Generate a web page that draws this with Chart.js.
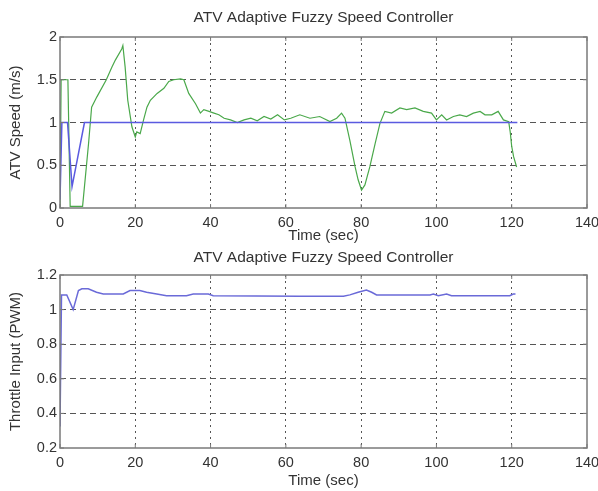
<!DOCTYPE html>
<html>
<head>
<meta charset="utf-8">
<script src="https://cdn.jsdelivr.net/npm/chart.js@4/dist/chart.umd.min.js"></script>
<style>
  body { margin: 0; background: #fff; }
  canvas { position: absolute; left: 0; }
  #speedChart { top: 0; }
  #throttleChart { top: 245px; }
</style>
</head>
<body>
<canvas id="speedChart" width="598" height="245"></canvas>
<canvas id="throttleChart" width="598" height="246"></canvas>
<script>
const xTicks = [0, 20, 40, 60, 80, 100, 120, 140];
const speedTicks = [0, 0.5, 1, 1.5, 2];
const throttleTicks = [0.2, 0.4, 0.6, 0.8, 1, 1.2];

// reference speed (blue)
const refTime  = [0, 0.5, 2.0, 3.2, 6.5, 121.5];
const refSpeed = [0.1, 1.0, 1.0, 0.25, 1.0, 1.0];

// measured speed (green)
const atvTime = [0, 0.3, 2.1, 2.7, 5.8, 6.0, 7.6, 8.4, 9.8, 12.3, 13.8, 14.7, 16.4, 16.7,
  17.3, 18.0, 19.1, 20.0, 20.4, 21.3, 22.2, 23.1, 24.0, 25.8, 27.6, 28.9, 30.2, 32.0, 32.9,
  34.2, 36.0, 37.3, 38.2, 39.6, 40.9, 42.2, 43.6, 45.3, 47.1, 48.9, 50.7, 52.4, 54.2, 56.0,
  57.8, 59.6, 61.3, 63.7, 66.4, 69.0, 71.7, 73.5, 74.8, 75.7, 77.0, 78.4, 79.2, 80.1, 81.0,
  82.3, 83.7, 85.0, 86.3, 88.1, 90.3, 92.1, 94.3, 96.5, 98.7, 100.0, 101.4, 102.7, 104.5,
  106.2, 108.0, 109.8, 111.6, 112.9, 114.7, 116.4, 117.8, 119.2, 119.6, 120.0, 120.5, 121.3];
const atvSpeed = [0, 1.5, 1.5, 0.02, 0.02, 0.02, 0.76, 1.18, 1.30, 1.50, 1.65, 1.73, 1.86, 1.90,
  1.65, 1.26, 0.95, 0.83, 0.89, 0.87, 1.03, 1.18, 1.26, 1.34, 1.40, 1.48, 1.50, 1.51, 1.50,
  1.34, 1.22, 1.11, 1.15, 1.13, 1.11, 1.09, 1.05, 1.03, 1.00, 1.03, 1.05, 1.02, 1.07, 1.04,
  1.09, 1.03, 1.05, 1.09, 1.05, 1.07, 1.01, 1.05, 1.11, 1.05, 0.79, 0.48, 0.33, 0.21, 0.27,
  0.48, 0.75, 0.99, 1.13, 1.11, 1.17, 1.15, 1.17, 1.13, 1.11, 1.03, 1.09, 1.03, 1.07,
  1.09, 1.07, 1.11, 1.13, 1.09, 1.09, 1.13, 1.03, 1.01, 0.89, 0.72, 0.60, 0.48];

// throttle input (blue)
const thrTime = [0, 0.4, 1.8, 3.5, 4.9, 5.8, 7.5, 9.7, 11.5, 16.8, 18.6, 21.2, 23.0, 25.7,
  28.3, 33.6, 35.4, 39.4, 40.7, 63.7, 75.3, 77.0, 79.2, 81.4, 82.8, 84.1, 98.3, 99.2, 100.5,
  102.7, 104.0, 119.5, 120.4, 121.0];
const throttle = [0.325, 1.085, 1.085, 1.0, 1.11, 1.12, 1.12, 1.10, 1.09, 1.09, 1.11, 1.11, 1.10, 1.09,
  1.08, 1.08, 1.09, 1.09, 1.08, 1.077, 1.077, 1.085, 1.10, 1.113, 1.10, 1.085, 1.085, 1.09, 1.08,
  1.09, 1.08, 1.08, 1.09, 1.09];

const pts = (xs, ys) => xs.map((x, i) => ({x: x, y: ys[i]}));
const FAMILY = "'Liberation Sans', Arial, sans-serif";
const TICKFONT = {family: FAMILY, size: 14.5};
const LABELFONT = {family: FAMILY, size: 15};
const TEXT = '#333';

// MATLAB-like box with inner tick marks
const frame = {
  id: 'frame',
  afterDraw(chart) {
    const {ctx, chartArea: a, scales} = chart;
    ctx.save();
    ctx.strokeStyle = '#7a7a7a';
    ctx.lineWidth = 1.5;
    ctx.strokeRect(a.left, a.top, a.right - a.left, a.bottom - a.top);
    ctx.lineWidth = 1;
    ctx.beginPath();
    scales.x.ticks.forEach(t => {
      const px = scales.x.getPixelForValue(t.value);
      ctx.moveTo(px, a.bottom); ctx.lineTo(px, a.bottom - 4);
      ctx.moveTo(px, a.top); ctx.lineTo(px, a.top + 4);
    });
    scales.y.ticks.forEach(t => {
      const py = scales.y.getPixelForValue(t.value);
      ctx.moveTo(a.left, py); ctx.lineTo(a.left + 4, py);
      ctx.moveTo(a.right, py); ctx.lineTo(a.right - 4, py);
    });
    ctx.stroke();
    ctx.restore();
  }
};

function makeOptions(cfg) {
  return {
    responsive: false,
    animation: false,
    layout: {padding: 0},
    plugins: {
      legend: {display: false},
      tooltip: {enabled: false},
      title: {
        display: true,
        text: 'ATV Adaptive Fuzzy Speed Controller',
        fullSize: false,
        color: TEXT,
        font: {family: FAMILY, size: 15.5, weight: 'normal'},
        padding: cfg.titlePad
      }
    },
    scales: {
      x: {
        type: 'linear',
        min: 0,
        max: 140,
        afterBuildTicks: s => { s.ticks = xTicks.map(v => ({value: v})); },
        afterFit: s => { s.height = cfg.xHeight; s.paddingLeft = 0; s.paddingRight = 11; },
        ticks: {color: TEXT, font: TICKFONT, padding: 6, maxRotation: 0, callback: v => String(v)},
        grid: {color: c => (c.index === 0 || c.index === xTicks.length - 1) ? 'rgba(0,0,0,0)' : '#555', lineWidth: 1, drawTicks: false},
        border: {display: false, dash: [2, 4]},
        title: {display: true, text: 'Time (sec)', color: TEXT, font: LABELFONT, padding: {top: 0, bottom: cfg.xTitleBottom}}
      },
      y: {
        type: 'linear',
        min: cfg.yTicks[0],
        max: cfg.yTicks[cfg.yTicks.length - 1],
        afterBuildTicks: s => { s.ticks = cfg.yTicks.map(v => ({value: v})); },
        afterFit: s => { s.width = 60; },
        ticks: {color: TEXT, font: TICKFONT, padding: 3, callback: v => String(v)},
        grid: {color: c => (c.index === 0 || c.index === cfg.yTicks.length - 1) ? 'rgba(0,0,0,0)' : '#555', lineWidth: 1, drawTicks: false},
        border: {display: false, dash: [6, 4]},
        title: {display: true, text: cfg.yTitle, color: TEXT, font: LABELFONT, padding: {top: 7, bottom: 0}}
      }
    }
  };
}

new Chart(document.getElementById('speedChart'), {
  type: 'line',
  data: {
    datasets: [
      {data: pts(refTime, refSpeed), borderColor: '#5a5ae0', borderWidth: 1.5, pointRadius: 0, tension: 0},
      {data: pts(atvTime, atvSpeed), borderColor: '#4aa84a', borderWidth: 1.2, pointRadius: 0, tension: 0}
    ]
  },
  options: makeOptions({
    yTicks: speedTicks, yTitle: 'ATV Speed (m/s)', xHeight: 37, xTitleBottom: 0,
    titlePad: {top: 8, bottom: 10.4}
  }),
  plugins: [frame]
});

new Chart(document.getElementById('throttleChart'), {
  type: 'line',
  data: {
    datasets: [
      {data: pts(thrTime, throttle), borderColor: '#6a6ad8', borderWidth: 1.5, pointRadius: 0, tension: 0}
    ]
  },
  options: makeOptions({
    yTicks: throttleTicks, yTitle: 'Throttle Input (PWM)', xHeight: 43, xTitleBottom: 1,
    titlePad: {top: 3, bottom: 8.4}
  }),
  plugins: [frame]
});
</script>
</body>
</html>
